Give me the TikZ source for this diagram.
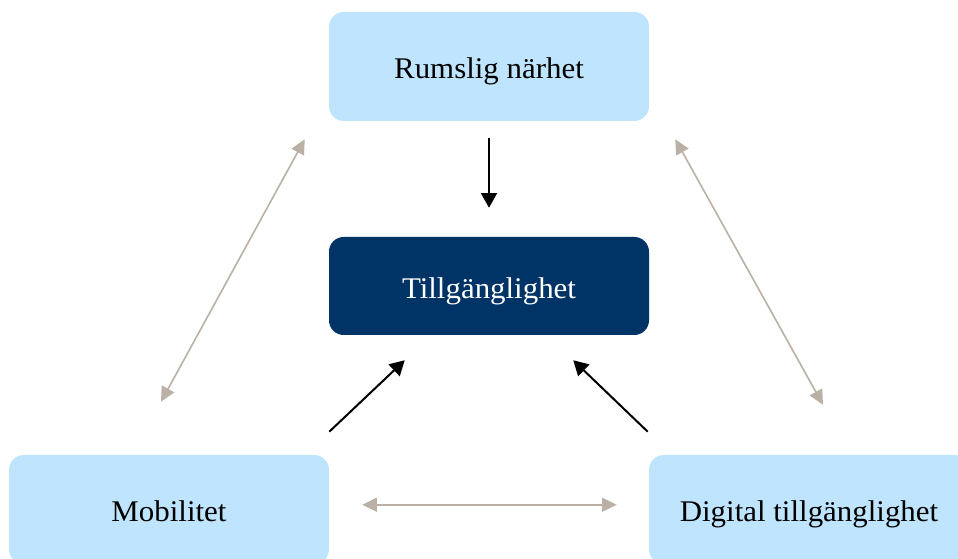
\documentclass[tikz,border=0pt]{standalone}
\usepackage{fontspec}
\setmainfont[FakeStretch=1.03]{Liberation Serif}
\usetikzlibrary{arrows.meta,calc}
\definecolor{lightbox}{RGB}{190,229,253}
\definecolor{navybox}{RGB}{0,51,102}
\definecolor{taupe}{RGB}{186,176,166}
\begin{document}
\begin{tikzpicture}[x=0.75pt,y=-0.75pt,
  boxstyle/.style={rectangle, rounded corners=11pt, minimum width=240pt,
    inner sep=0pt, text height=20pt, text depth=1.25pt,
    font=\fontsize{22.5}{27}\selectfont},
  lightstyle/.style={boxstyle, fill=lightbox, text=black, minimum height=81.75pt},
  darkstyle/.style={boxstyle, fill=navybox, text=white, minimum height=73.5pt},
  mainarrow/.style={draw=black, line width=1.5pt, -{Triangle[length=11pt,width=12pt]}},
  linkarrow/.style={draw=taupe, line width=1.2pt, {Triangle[length=11pt,width=10.5pt]}-{Triangle[length=11pt,width=10.5pt]}}
]
\useasboundingbox (0,0) rectangle (958,559);
\clip (0,0) rectangle (958,559);

\node[lightstyle] (top) at (489,66.5) {Rumslig närhet};
\node[darkstyle]  (mid) at (489,286) {Tillgänglighet};
\node[lightstyle] (mob) at (169,509.5) {Mobilitet};
\node[lightstyle] (dig) at (809,509.5) {Digital tillgänglighet};

% black arrows
\draw[mainarrow, shorten <=12.75pt, shorten >=21.75pt] (top.south) -- (mid.north);
\draw[mainarrow] ($(mob.north east)+(0,-23)$) -- ($(mid.south west)+(76,25)$);
\draw[mainarrow] ($(dig.north west)+(-1,-23)$) -- ($(mid.south east)+(-76,25)$);

% taupe double arrows
\draw[linkarrow] ($(top.south west)+(-24,18)$) -- ($(mob.north)+(-8,-53)$);
\draw[linkarrow] ($(top.south east)+(26,18)$) -- ($(dig.north)+(14,-50)$);
\draw[linkarrow] ($(mob.north east)+(33,50)$) -- ($(dig.north west)+(-32,50)$);
\end{tikzpicture}
\end{document}
